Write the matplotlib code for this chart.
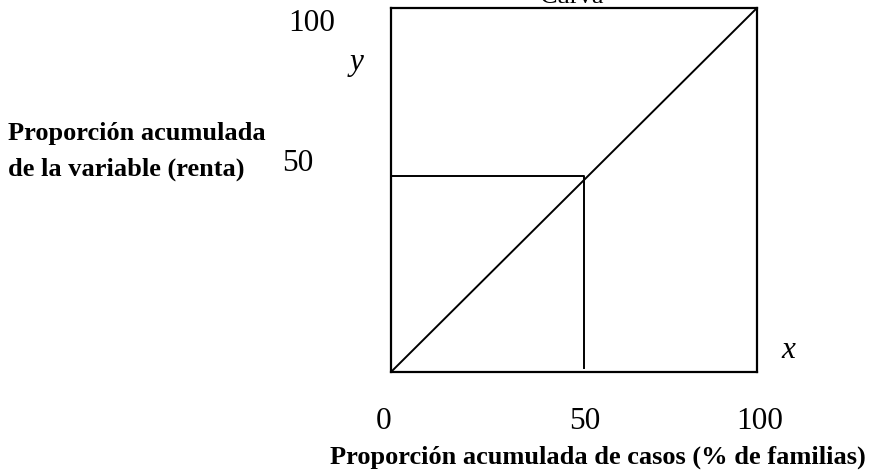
import matplotlib.pyplot as plt

# lorenz sketch: equality diagonal plus the 50% guide
diag_x = [0, 100]
diag_y = [0, 100]
guide_x = [0, 52.7, 52.7]
guide_y = [53.8, 53.8, 1.1]
xtick_vals = [-2, 53, 100.8]
xtick_labels = ["0", "50", "100"]
ytick_vals = [95.6, 57.4]
ytick_pos = [-21.6, -25.4]
ytick_labels = ["100", "50"]

plt.rcParams['font.family'] = ['Liberation Serif', 'DejaVu Serif']

fig = plt.figure(figsize=(8.72, 4.72), dpi=100)
ax = fig.add_axes([0.4484, 0.2119, 0.4197, 0.7712])
ax.set_xlim(0, 100)
ax.set_ylim(0, 100)
ax.set_clip_on(False)

ax.plot(diag_x, diag_y, color="black", lw=1.4)
ax.plot(guide_x, guide_y, color="black", lw=1.4)

for s in ax.spines.values():
    s.set_linewidth(1.6)
ax.set_xticks([])
ax.set_yticks([])

for v, lab in zip(xtick_vals, xtick_labels):
    ax.text(v, -13.7, lab, ha="center", va="center", fontsize=22.5)
for xp, v, lab in zip(ytick_pos, ytick_vals, ytick_labels):
    ax.text(xp, v, lab, ha="center", va="center", fontsize=22.5)

ax.text(-9.3, 85, "y", ha="center", va="center", fontsize=22.5, style="italic")
ax.text(108.5, 6, "x", ha="center", va="center", fontsize=22.5, style="italic")

fig.text(0.009, 1 - 140 / 472, "Proporción acumulada", ha="left",
         va="baseline", fontsize=19, fontweight="bold")
fig.text(0.009, 1 - 176 / 472, "de la variable (renta)", ha="left",
         va="baseline", fontsize=19, fontweight="bold")
fig.text(0.686, 1 - 464 / 472, "Proporción acumulada de casos (% de familias)",
         ha="center", va="baseline", fontsize=19, fontweight="bold")
fig.text(0.656, 1 - 3 / 472, "Curva", ha="center", va="baseline",
         fontsize=19)

fig.savefig("out.png", dpi=100)
